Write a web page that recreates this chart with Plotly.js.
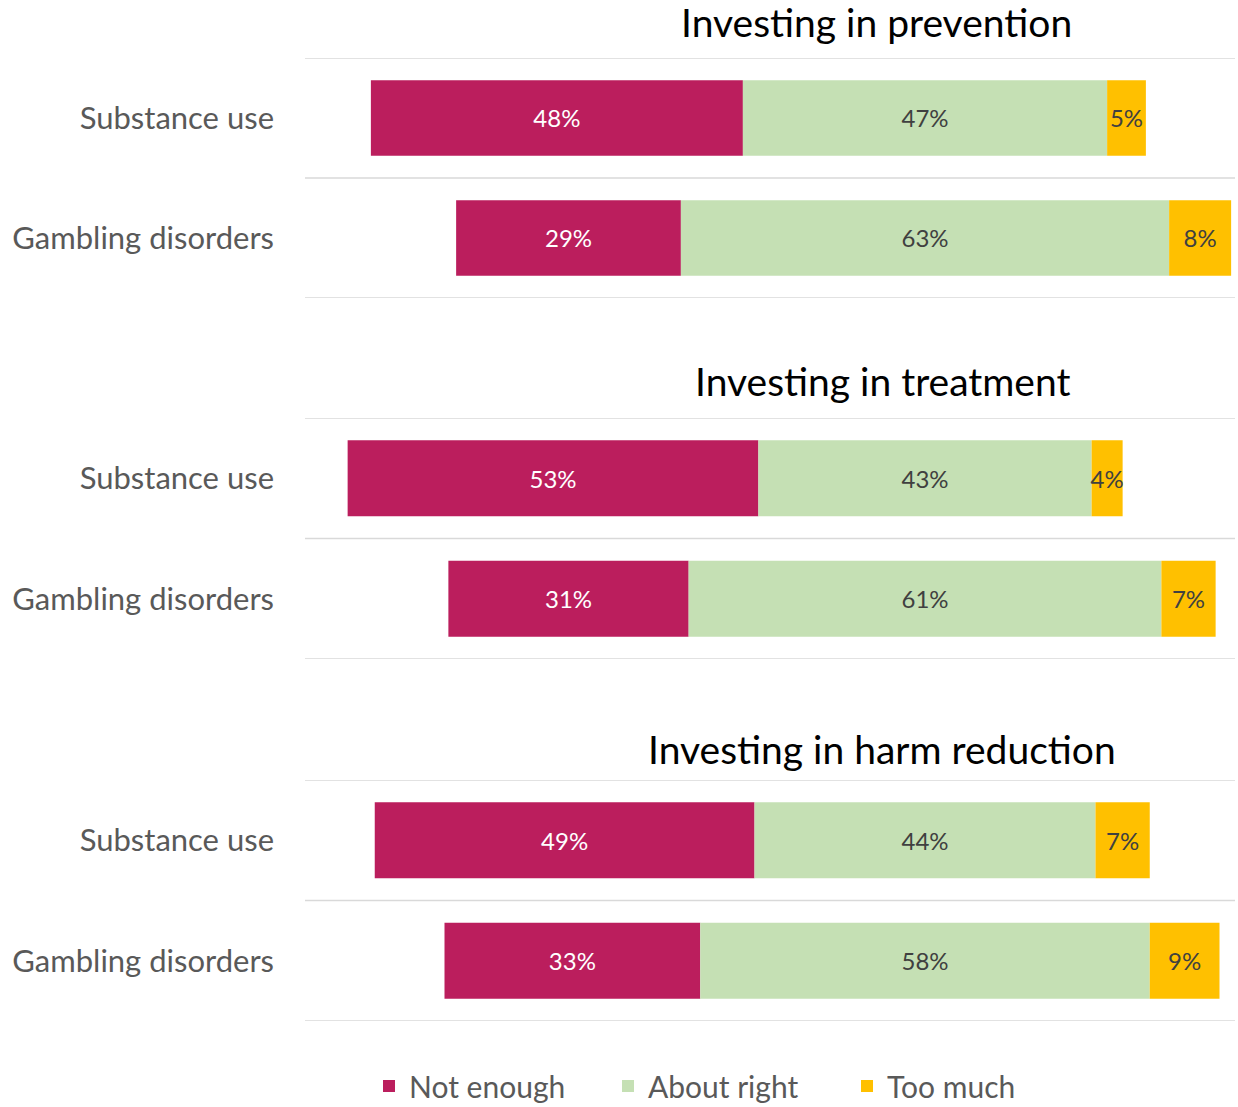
<!DOCTYPE html>
<html>
<head>
<meta charset="utf-8">
<script src="https://cdn.plot.ly/plotly-3.0.1.min.js"></script>
<style>
  body { margin: 0; background: #fff; }
  #chart { width: 1238px; height: 1107px; }
</style>
</head>
<body>
<div id="chart"></div>
<script>
// Opinions on investing, by field (percent of respondents)
const groups = ['Substance use', 'Gambling disorders'];
const panelTitles = ['Investing in prevention', 'Investing in treatment', 'Investing in harm reduction'];

const notEnough = [[48, 29], [53, 31], [49, 33]];
const aboutRight = [[47, 63], [43, 61], [44, 58]];
const tooMuch = [[5, 8], [4, 7], [7, 9]];

const seriesNames = ['Not enough', 'About right', 'Too much'];
const colors = ['#BB1E5D', '#C5E0B4', '#FFC000'];
const textColors = ['#ffffff', '#404040', '#404040'];

const FONT = 'Lato, "Open Sans", sans-serif';

// panels sit on top of each other, top to bottom
const domains = [[0.7508, 1.0], [0.3759, 0.6262], [0.0, 0.2503]];
const titlePos = [[0.614, 1.037], [0.621, 0.6646], [0.620, 0.2824]];

const traces = [];
const layout = {
    width: 1238,
    height: 1107,
    margin: { l: 305, r: 3, t: 58, b: 86, autoexpand: false },
    paper_bgcolor: '#fff',
    plot_bgcolor: '#fff',
    barmode: 'overlay',
    showlegend: true,
    font: { family: FONT, color: '#595959' },
    legend: {
        orientation: 'h',
        x: 0.0688, xanchor: 'left',
        y: -0.0675, yanchor: 'middle',
        font: { size: 30, color: '#595959' },
        itemwidth: 30,
        entrywidth: 194,
        tracegroupgap: 0
    },
    annotations: [],
    shapes: []
};

panelTitles.forEach((title, p) => {
    const xa = p === 0 ? 'x' : 'x' + (p + 1);
    const ya = p === 0 ? 'y' : 'y' + (p + 1);
    const ne = notEnough[p], ar = aboutRight[p], tm = tooMuch[p];

    // centre each bar on the middle of "About right"
    const segs = [
        { vals: ne, base: ne.map((v, i) => -(v + ar[i] / 2)) },
        { vals: ar, base: ar.map(v => -v / 2) },
        { vals: tm, base: ar.map(v => v / 2) }
    ];

    segs.forEach((s, k) => {
        traces.push({
            type: 'bar',
            orientation: 'h',
            name: seriesNames[k],
            legendgroup: seriesNames[k],
            showlegend: p === 0,
            y: groups,
            x: s.vals,
            base: s.base,
            width: 0.63,
            xaxis: xa,
            yaxis: ya,
            marker: { color: colors[k], line: { width: 0 } },
            text: s.vals.map(v => v + '%'),
            textposition: 'inside',
            insidetextanchor: 'middle',
            textangle: 0,
            constraintext: 'none',
            textfont: { family: FONT, size: 24, color: textColors[k] },
            hoverinfo: 'skip'
        });
    });

    layout[xa === 'x' ? 'xaxis' : 'xaxis' + (p + 1)] = {
        domain: [0, 1],
        anchor: ya,
        range: [-80, 40],
        showgrid: false,
        zeroline: false,
        showticklabels: false,
        showline: false,
        fixedrange: true
    };
    layout[ya === 'y' ? 'yaxis' : 'yaxis' + (p + 1)] = {
        domain: domains[p],
        anchor: xa,
        type: 'category',
        range: [1.5, -0.5],
        showgrid: false,
        ticks: '',
        ticklabelstandoff: 30,
        tickfont: { family: FONT, size: 31, color: '#595959' },
        showline: false,
        zeroline: false,
        fixedrange: true
    };

    // separator lines on category boundaries
    [-0.5, 0.5, 1.5].forEach(b => {
        layout.shapes.push({
            type: 'line',
            xref: xa + ' domain', yref: ya,
            x0: 0, x1: 1, y0: b, y1: b,
            line: { color: '#D9D9D9', width: 1.5 },
            layer: 'below'
        });
    });

    layout.annotations.push({
        text: title,
        xref: 'paper', yref: 'paper',
        x: titlePos[p][0], y: titlePos[p][1],
        xanchor: 'center', yanchor: 'middle',
        showarrow: false,
        font: { family: FONT, size: 39, color: '#000000' }
    });
});

Plotly.newPlot('chart', traces, layout, { displayModeBar: false, staticPlot: true });
</script>
</body>
</html>
